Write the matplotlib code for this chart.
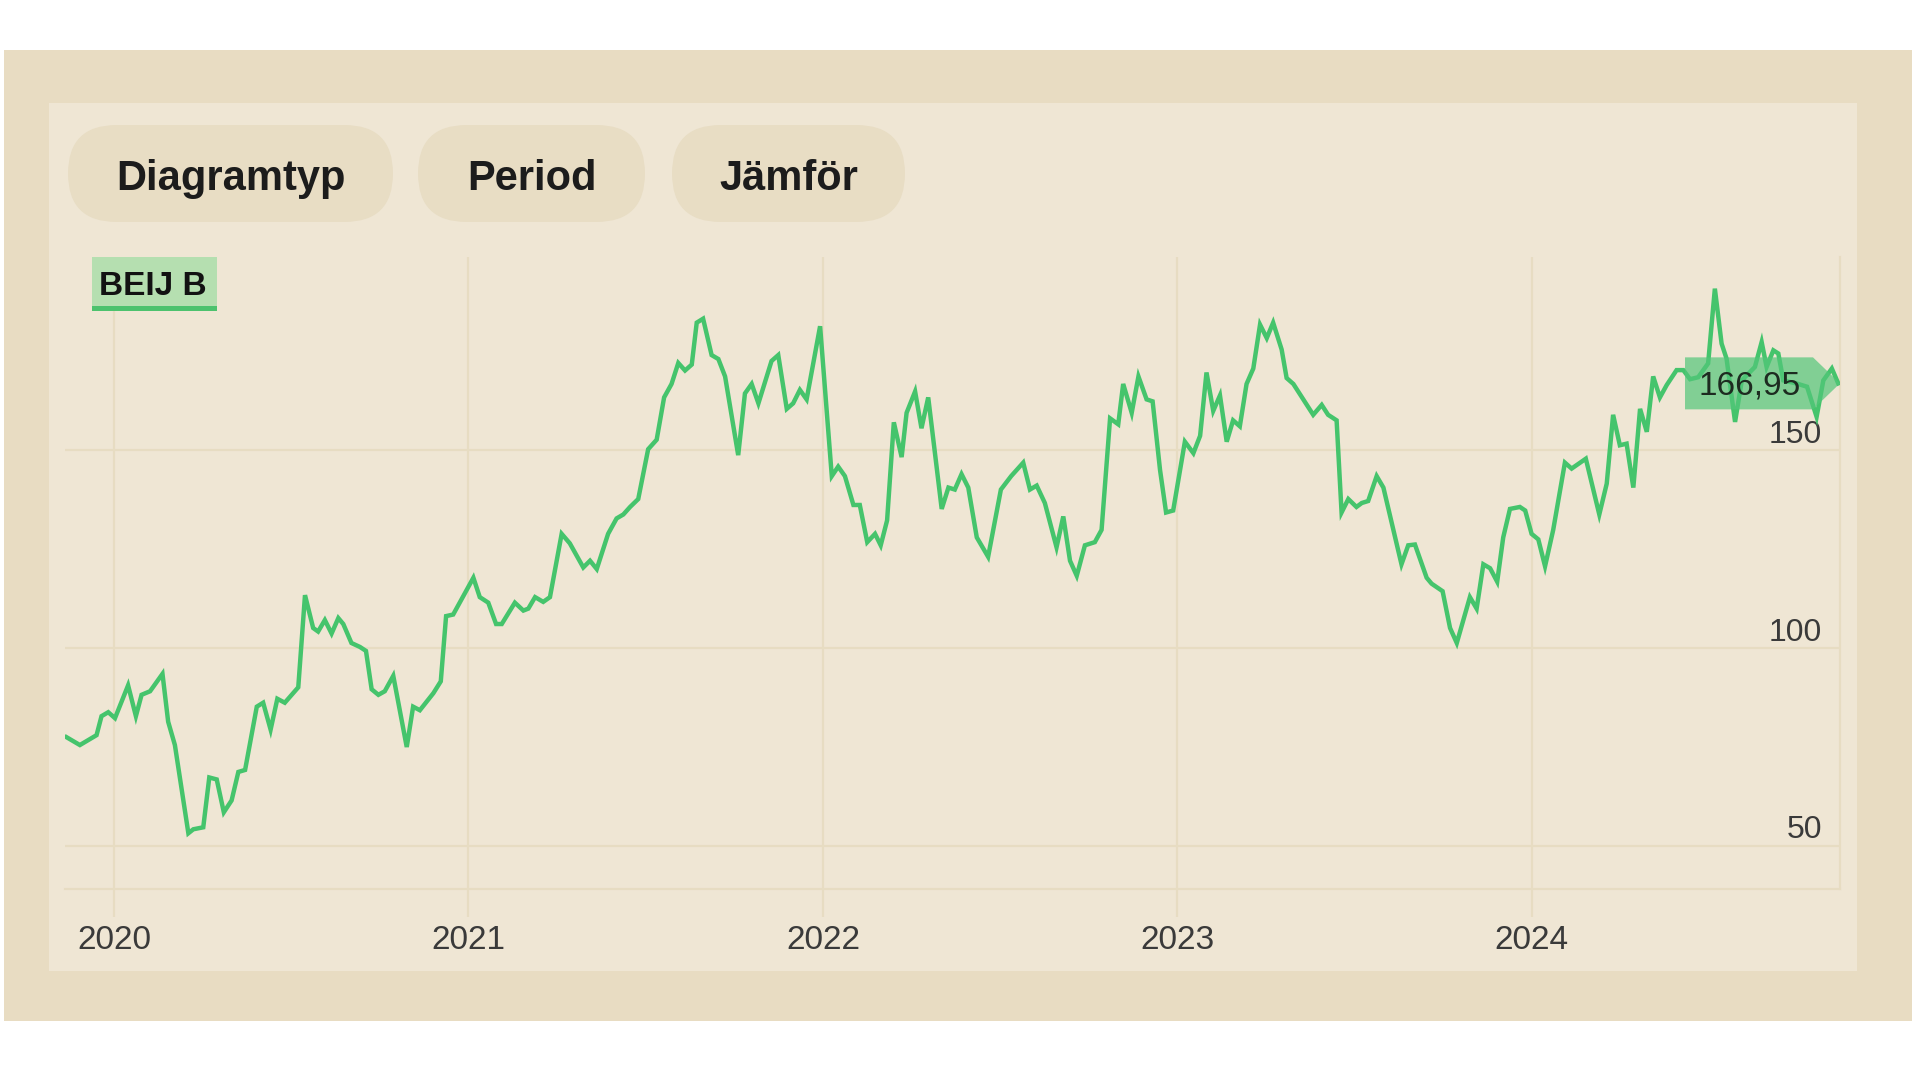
import matplotlib
matplotlib.use("Agg")
import matplotlib.pyplot as plt
from matplotlib.patches import Rectangle, FancyBboxPatch, Polygon
import matplotlib.transforms as mtransforms

plt.rcParams["font.family"] = ["Liberation Sans", "DejaVu Sans"]

# ---------------- data ----------------
ticker = "BEIJ B"
buttons = ["Diagramtyp", "Period", "Jämför"]
year_ticks = [2020, 2021, 2022, 2023, 2024]
year_labels = ["2020", "2021", "2022", "2023", "2024"]
price_ticks = [50, 100, 150]
price_labels = ["50", "100", "150"]

# time in decimal years, closing price (SEK)
t_year = [
    2019.866, 2019.904, 2019.942, 2019.951, 2019.965, 2019.984, 2020.003, 2020.040,
    2020.062, 2020.078, 2020.102, 2020.137, 2020.153, 2020.172, 2020.210, 2020.224,
    2020.252, 2020.269, 2020.290, 2020.310, 2020.332, 2020.351, 2020.370, 2020.403,
    2020.421, 2020.442, 2020.461, 2020.482, 2020.520, 2020.539, 2020.562, 2020.576,
    2020.595, 2020.614, 2020.633, 2020.647, 2020.670, 2020.694, 2020.711, 2020.727,
    2020.746, 2020.764, 2020.788, 2020.826, 2020.844, 2020.863, 2020.901, 2020.922,
    2020.937, 2020.957, 2020.981, 2021.014, 2021.032, 2021.056, 2021.078, 2021.094,
    2021.131, 2021.155, 2021.169, 2021.188, 2021.211, 2021.230, 2021.263, 2021.286,
    2021.324, 2021.343, 2021.362, 2021.394, 2021.418, 2021.437, 2021.456, 2021.479,
    2021.507, 2021.531, 2021.552, 2021.573, 2021.592, 2021.611, 2021.630, 2021.644,
    2021.662, 2021.686, 2021.705, 2021.724, 2021.761, 2021.780, 2021.799, 2021.818,
    2021.855, 2021.874, 2021.898, 2021.916, 2021.935, 2021.954, 2021.992, 2022.025,
    2022.043, 2022.062, 2022.086, 2022.104, 2022.125, 2022.147, 2022.163, 2022.181,
    2022.200, 2022.222, 2022.236, 2022.260, 2022.278, 2022.297, 2022.335, 2022.354,
    2022.372, 2022.391, 2022.410, 2022.434, 2022.466, 2022.502, 2022.531, 2022.565,
    2022.584, 2022.603, 2022.626, 2022.659, 2022.678, 2022.697, 2022.716, 2022.739,
    2022.767, 2022.786, 2022.810, 2022.833, 2022.847, 2022.871, 2022.890, 2022.913,
    2022.930, 2022.951, 2022.968, 2022.988, 2023.021, 2023.045, 2023.064, 2023.082,
    2023.101, 2023.120, 2023.139, 2023.157, 2023.176, 2023.195, 2023.214, 2023.233,
    2023.252, 2023.270, 2023.294, 2023.308, 2023.327, 2023.383, 2023.407, 2023.425,
    2023.449, 2023.463, 2023.482, 2023.505, 2023.520, 2023.538, 2023.562, 2023.581,
    2023.632, 2023.651, 2023.670, 2023.703, 2023.717, 2023.748, 2023.769, 2023.788,
    2023.825, 2023.844, 2023.863, 2023.882, 2023.902, 2023.919, 2023.938, 2023.966,
    2023.981, 2023.999, 2024.018, 2024.037, 2024.060, 2024.093, 2024.112, 2024.152,
    2024.190, 2024.211, 2024.229, 2024.248, 2024.267, 2024.286, 2024.305, 2024.324,
    2024.342, 2024.361, 2024.380, 2024.408, 2024.427, 2024.446, 2024.469, 2024.497,
    2024.516, 2024.535, 2024.549, 2024.573, 2024.592, 2024.629, 2024.648, 2024.662,
    2024.681, 2024.695, 2024.709, 2024.747, 2024.776, 2024.803, 2024.822, 2024.846,
    2024.864,
]
price = [
    77.5, 75.5, 77.5, 78.0, 82.8, 83.8, 82.3, 90.6,
    82.8, 88.2, 89.1, 93.5, 81.4, 75.5, 53.2, 54.2,
    54.7, 67.3, 66.8, 58.5, 61.5, 68.7, 69.2, 85.2,
    86.2, 79.4, 87.2, 86.2, 90.1, 113.4, 105.1, 104.2,
    107.1, 103.7, 107.6, 106.1, 101.3, 100.3, 99.3, 89.6,
    88.2, 89.1, 93.0, 75.0, 85.2, 84.3, 88.6, 91.6,
    108.1, 108.5, 112.4, 117.8, 112.9, 111.5, 106.1, 106.1,
    111.5, 109.5, 110.0, 112.9, 111.7, 112.9, 128.9, 126.5,
    120.4, 122.1, 120.0, 128.9, 132.8, 133.8, 135.7, 137.7,
    150.3, 152.7, 163.4, 166.8, 172.1, 170.2, 171.7, 182.3,
    183.3, 174.1, 173.1, 168.7, 148.8, 164.4, 166.8, 161.9,
    172.6, 174.1, 160.5, 161.9, 165.3, 162.9, 181.4, 143.5,
    145.9, 143.5, 136.2, 136.2, 126.8, 128.9, 126.0, 132.3,
    157.1, 148.3, 159.5, 164.9, 155.6, 163.4, 135.2, 140.6,
    140.1, 144.0, 140.6, 128.0, 123.1, 140.1, 143.5, 146.9,
    140.1, 141.1, 136.7, 125.5, 133.3, 122.1, 118.3, 126.0,
    126.8, 129.9, 158.1, 156.6, 166.8, 159.5, 168.7, 162.9,
    162.4, 145.0, 134.3, 134.8, 152.2, 149.3, 153.7, 169.7,
    160.0, 163.9, 152.2, 157.6, 156.1, 166.8, 170.7, 181.8,
    178.4, 182.3, 175.5, 168.3, 166.8, 159.0, 161.5, 159.0,
    157.6, 134.3, 137.7, 135.7, 136.7, 137.2, 143.5, 140.6,
    121.2, 126.0, 126.2, 117.8, 116.3, 114.4, 105.1, 101.3,
    112.9, 110.0, 121.2, 120.2, 116.8, 128.0, 135.2, 135.7,
    134.8, 128.9, 127.5, 120.7, 129.9, 146.9, 145.4, 147.9,
    133.8, 141.6, 159.0, 151.3, 151.7, 140.6, 160.5, 154.7,
    168.7, 163.4, 166.5, 170.3, 170.3, 168.0, 168.5, 172.0,
    190.9, 177.0, 173.2, 157.2, 167.7, 171.1, 177.4, 171.1,
    175.3, 174.5, 167.7, 166.9, 166.1, 158.5, 167.7, 170.7,
    166.95,
]

# ---------------- style ----------------
OUTER = "#e8dcc2"
INNER = "#efe6d4"
PILL = "#e8ddc4"
GRID = "#e7dcc2"
LINE = "#45c46c"
TXT = "#3a3a3a"

W, H = 1920, 1080
fig = plt.figure(figsize=(W / 100, H / 100), dpi=100, facecolor="white")
T = fig.dpi_scale_trans  # inches, isotropic


def rect(x0, y0, x1, y1, **kw):
    return Rectangle((x0 / 100, (H - y1) / 100), (x1 - x0) / 100, (y1 - y0) / 100,
                     transform=T, **kw)


fig.add_artist(rect(4, 50, 1912, 1021, fc=OUTER, ec="none", zorder=0))
fig.add_artist(rect(49, 103, 1857, 971, fc=INNER, ec="none", zorder=0.1))

# pill buttons
pills = [(68, 393), (418, 645), (672, 905)]
py0, py1 = 125, 222
for (x0, x1), label in zip(pills, buttons):
    h = (py1 - py0) / 100
    p = FancyBboxPatch((x0 / 100, (H - py1) / 100), (x1 - x0) / 100, h,
                       boxstyle=f"round,pad=0,rounding_size={h / 2}",
                       transform=T, fc=PILL, ec="none", zorder=0.2)
    fig.add_artist(p)
    fig.text((x0 + x1) / 2 / W, 1 - 190 / H, label, ha="center", va="baseline",
             fontsize=30, fontweight="bold", color="#1c1c1c", zorder=3)

# chart axes
ax_l, ax_r, ax_t, ax_b = 65, 1840, 257, 889
ax = fig.add_axes([ax_l / W, 1 - ax_b / H, (ax_r - ax_l) / W, (ax_b - ax_t) / H])
ax.set_facecolor("none")
ax.set_zorder(2)
xmin, xmax = 2019.862, 2024.869
ymin, ymax = 39.1, 198.9
ax.set_xlim(xmin, xmax)
ax.set_ylim(ymin, ymax)

ax.set_xticks(year_ticks)
ax.set_xticklabels(year_labels)
ax.set_yticks(price_ticks)
ax.grid(True, color=GRID, lw=1.6, zorder=0)
ax.set_axisbelow(True)
for s in ["left", "top"]:
    ax.spines[s].set_visible(False)
for s in ["bottom", "right"]:
    ax.spines[s].set_color(GRID)
    ax.spines[s].set_linewidth(1.6)
ax.tick_params(axis="x", direction="out", length=20, width=1.6, color=GRID,
               labelsize=24, labelcolor=TXT, pad=6)
ax.tick_params(axis="y", length=0, labelleft=False)

# y labels sitting above grid lines, right aligned
lab_x = (1822 - ax_l) / (ax_r - ax_l)
blend = mtransforms.blended_transform_factory(ax.transAxes, ax.transData)
for yv, yl in zip(price_ticks, price_labels):
    ax.annotate(yl, xy=(lab_x, yv), xycoords=blend, xytext=(0, 5.5),
                textcoords="offset points", ha="right", va="baseline",
                fontsize=23, color=TXT, zorder=1)

# price line
ax.plot(t_year, price, color=LINE, lw=3.2, zorder=3, solid_joinstyle="miter")

# last value tag
last = price[-1]
yc = (last - ymin) / (ymax - ymin)
hh = 26 / (ax_b - ax_t)
bx0 = (1685 - ax_l) / (ax_r - ax_l)
bx1 = (1813 - ax_l) / (ax_r - ax_l)
tag = Polygon([(bx0, yc - hh), (bx1, yc - hh), (1.0, yc), (bx1, yc + hh), (bx0, yc + hh)],
              closed=True, transform=ax.transAxes, fc="#52c679", ec="none", alpha=0.7,
              zorder=4, clip_on=False)
ax.add_patch(tag)
ax.annotate(f"{last:.2f}".replace(".", ","),
            xy=((1750 - ax_l) / (ax_r - ax_l), yc), xycoords="axes fraction",
            xytext=(0, -2), textcoords="offset points",
            ha="center", va="center", fontsize=24, color="#1d2b20", zorder=5)

# ticker badge
fig.add_artist(rect(92, 257, 217, 307, fc="#b5dfb0", ec="none", zorder=2.5))
fig.add_artist(rect(92, 306, 217, 311, fc="#4cc26d", ec="none", zorder=2.6))
fig.text(99 / W, 1 - 295 / H, ticker, ha="left", va="baseline", fontsize=24,
         fontweight="bold", color="#121212", zorder=3)

fig.savefig("out.png", dpi=100, facecolor="white")
